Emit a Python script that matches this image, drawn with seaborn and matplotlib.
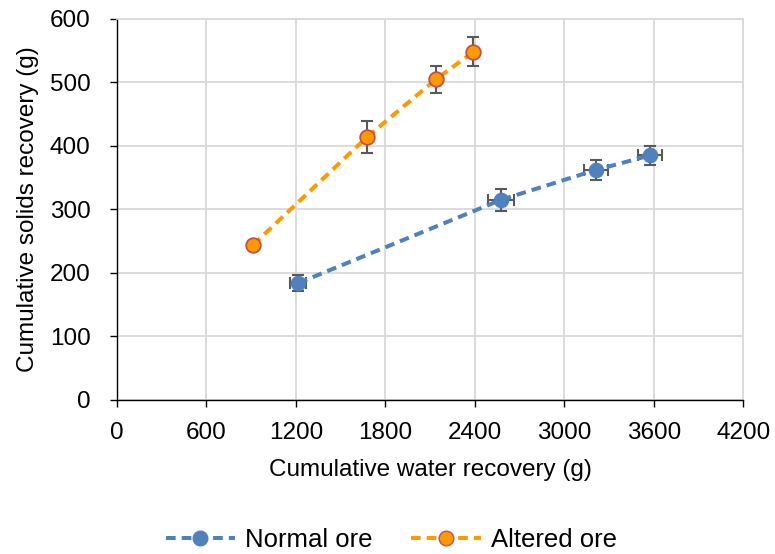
import matplotlib
matplotlib.use("Agg")
import matplotlib.pyplot as plt
import seaborn as sns
import pandas as pd
from matplotlib.lines import Line2D

# Data
normal_water = [1215, 2575, 3210, 3575]
normal_solids = [184, 315, 362, 385]
normal_xerr = [55, 90, 80, 80]
normal_yerr = [13, 17, 16, 15]

altered_water = [912, 1677, 2140, 2390]
altered_solids = [244, 414, 505, 548]
altered_yerr = [0, 25, 21, 23]

series_names = ["Normal ore", "Altered ore"]

sns.set_theme(style="whitegrid")
plt.rcParams["font.family"] = ["Liberation Sans", "DejaVu Sans"]
plt.rcParams["text.color"] = "black"
plt.rcParams["axes.labelcolor"] = "black"

df = pd.concat([
    pd.DataFrame({"water": normal_water, "solids": normal_solids, "series": series_names[0]}),
    pd.DataFrame({"water": altered_water, "solids": altered_solids, "series": series_names[1]}),
])

blue = "#4F81BD"
orange = "#FF9900"
orange_edge = "#C0504D"
err_c = "#595959"
dash = (0, (2.4, 1.5))

fig = plt.figure(figsize=(7.75, 5.54), dpi=100)
ax = fig.add_axes([0.151, 0.278, 0.808, 0.688])

sub = df[df.series == series_names[0]]
ax.errorbar(sub.water, sub.solids, xerr=normal_xerr, yerr=normal_yerr, fmt="none",
            ecolor=err_c, elinewidth=1.5, capsize=4.5, capthick=1.5, zorder=3)
sub = df[df.series == series_names[1]]
ax.errorbar(sub.water, sub.solids, yerr=altered_yerr, fmt="none",
            ecolor=err_c, elinewidth=1.5, capsize=4.5, capthick=1.5, zorder=3)

sns.lineplot(data=df[df.series == series_names[0]], x="water", y="solids", ax=ax,
             color=blue, linestyle=dash, linewidth=2.9, marker="o", markersize=10.5,
             markerfacecolor=blue, markeredgecolor=blue, sort=False, zorder=4)
sns.lineplot(data=df[df.series == series_names[1]], x="water", y="solids", ax=ax,
             color=orange, linestyle=dash, linewidth=2.9, marker="o", markersize=10.5,
             markerfacecolor=orange, markeredgecolor=orange_edge, markeredgewidth=1.3,
             sort=False, zorder=4)

ax.set_xlim(0, 4200)
ax.set_ylim(0, 600)
ax.set_xticks(range(0, 4201, 600))
ax.set_yticks(range(0, 601, 100))
ax.grid(True, color="#D9D9D9", linewidth=1.3)
for side in ["top", "right"]:
    ax.spines[side].set_color("#D9D9D9")
    ax.spines[side].set_linewidth(1.3)
for side in ["left", "bottom"]:
    ax.spines[side].set_color("black")
    ax.spines[side].set_linewidth(1.0)
ax.tick_params(axis="both", labelsize=17.5, colors="black", direction="out",
               length=5, width=1, bottom=True, left=True)
ax.tick_params(axis="x", pad=11)
ax.tick_params(axis="y", pad=14)
ax.set_xlabel("Cumulative water recovery (g)", fontsize=17.5, labelpad=11)
ax.set_ylabel("Cumulative solids recovery (g)", fontsize=17.5, labelpad=8)

handles = [
    Line2D([], [], color=blue, linestyle=dash, linewidth=2.9, marker="o", markersize=10.5,
           markerfacecolor=blue, markeredgecolor=blue),
    Line2D([], [], color=orange, linestyle=dash, linewidth=2.9, marker="o", markersize=10.5,
           markerfacecolor=orange, markeredgecolor=orange_edge),
]
fig.legend(handles, series_names, loc="center", bbox_to_anchor=(0.505, 0.025), ncol=2,
           frameon=False, fontsize=18.5, handlelength=2.7, columnspacing=1.5, handletextpad=0.4)

fig.savefig("out.png", dpi=100)
